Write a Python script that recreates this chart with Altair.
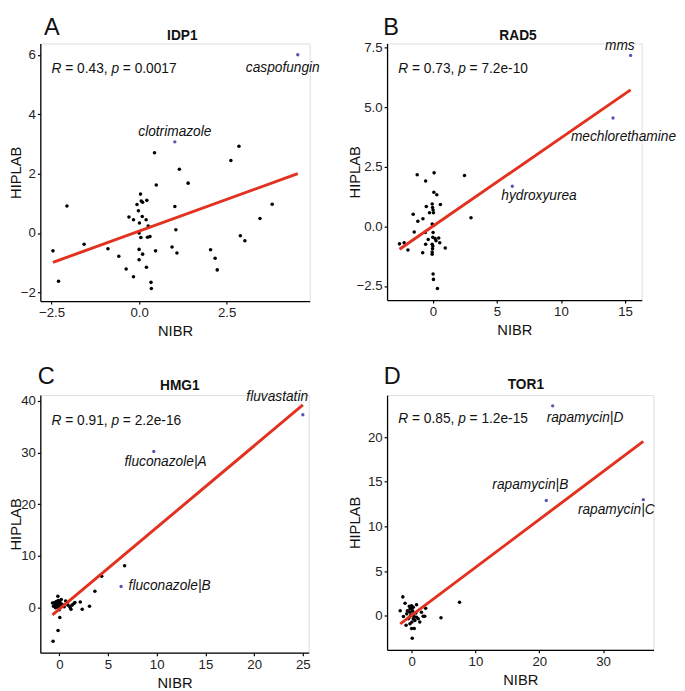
import altair as alt
import pandas as pd

FONT = "Liberation Sans"

# ---------------- Panel A : IDP1 ----------------
A_x = [-2.46, -2.30, -2.06, -1.57, -0.89, -0.58, -0.37, -0.29, -0.16, -0.16,
       -0.06, -0.02, 0.04, 0.06, 0.10, 0.01, 0.09, 0.00, 0.00, 0.00,
       0.05, 0.10, 0.20, 0.22, 0.26, 0.24, 0.31, 0.21, 0.34, 0.35,
       0.44, 0.49, 0.47, 0.94, 1.02, 1.05, 1.08, 1.15, 1.40, 2.04,
       2.17, 2.23, 2.62, 2.85, 2.89, 3.02, 3.45, 3.80]
A_y = [-0.60, -1.62, 0.91, -0.38, -0.53, -0.78, -1.21, 0.54, 0.45, -1.47,
       0.96, 0.75, 1.31, 1.08, 1.04, 0.34, 0.56, 0.00, -0.55, -0.90,
       -0.15, -0.71, 0.45, 1.10, 0.24, -0.14, -0.12, -1.15, -1.66, -1.87,
       2.70, 1.62, -0.60, -0.47, 0.89, 0.11, -0.67, 2.15, 1.68, -0.56,
       -0.85, -1.24, 2.44, 2.92, -0.09, -0.26, 0.49, 0.97]
A_hi_x = [1.02, 4.53]
A_hi_y = [3.07, 6.00]
A_hi_label = ["clotrimazole", "caspofungin"]

# ---------------- Panel B : RAD5 ----------------
B_x = [-1.22, 0.10, -0.56, 2.47, 0.08, 0.31, -0.51, -0.05, 0.59, -0.02,
       0.02, -0.26, 0.05, -1.53, -0.77, -1.17, 2.98, -0.05, 0.05, -1.45,
       -0.59, 0.02, 0.00, 0.18, 0.46, -0.36, 0.25, 0.54, -0.56, -0.05,
       0.00, -2.60, -2.24, -1.94, -0.02, 0.97, -0.79, -0.05, -0.05, 0.02,
       0.05, 0.36]
B_y = [2.17, 2.25, 1.91, 2.14, 1.44, 1.33, 0.84, 0.94, 0.92, 0.80,
       0.69, 0.58, 0.58, 0.51, 0.32, 0.22, 0.37, 0.10, 0.04, -0.23,
       -0.25, -0.25, -0.45, -0.51, -0.48, -0.55, -0.60, -0.68, -0.75, -0.75,
       -0.82, -0.73, -0.68, -0.99, -0.93, -0.90, -1.10, -1.07, -1.17, -1.99,
       -2.22, -2.60]
B_hi_x = [6.20, 14.06, 15.43]
B_hi_y = [1.69, 4.55, 7.18]
B_hi_label = ["hydroxyurea", "mechlorethamine", "mms"]

# ---------------- Panel C : HMG1 ----------------
C_x = [-0.70, -0.60, -0.50, -0.45, -0.40, -0.35, -0.30, -0.25, -0.20, -0.15,
       -0.10, -0.10, -0.05, 0.00, 0.00, 0.05, 0.05, 0.10, 0.15, 0.20,
       -0.13, -0.64, 0.30, 0.50, 0.65, 0.90, 1.10, 1.20, 1.30, 1.50,
       1.60, 2.15, 2.35, 3.10, 3.65, 4.35, 6.70]
C_y = [0.9, 0.3, 1.0, 0.5, 0.0, 0.8, 1.2, 0.4, 0.7, 2.2,
       1.4, 0.1, 0.9, 0.5, -0.4, 1.1, -1.9, 0.3, 0.8, 1.6,
       -4.4, -6.5, 0.6, 0.2, 1.3, 0.5, 0.1, -0.3, 0.5, 0.8,
       1.0, 1.1, -0.3, 0.3, 3.2, 6.1, 8.1]
C_hi_x = [9.70, 6.34, 25.00]
C_hi_y = [30.2, 4.1, 37.3]
C_hi_label = ["fluconazole|A", "fluconazole|B", "fluvastatin"]

# ---------------- Panel D : TOR1 ----------------
D_x = [-1.38, -1.79, -1.03, -0.36, 0.00, 0.77, 0.00, 2.20, -1.28, -0.77,
       -0.26, 0.26, 1.54, 1.80, 2.05, -0.51, 0.26, 0.77, 1.28, -0.87,
       -0.26, 0.00, 0.41, 0.10, 4.60, 7.50, -0.26, -0.15, 0.15, 0.36,
       0.51, -0.36, 0.05, 0.67, 1.03, -0.67, 0.26]
D_y = [2.12, 0.58, 1.42, 1.06, 1.13, 1.24, 0.84, 0.84, -0.07, 0.22,
       0.40, 0.22, 0.40, -0.04, -0.04, -0.33, -0.33, -0.15, -0.69, -1.06,
       -0.88, -1.42, -1.42, -2.52, -0.22, 1.53, 0.77, 0.04, 0.58, -0.04,
       -0.51, -0.15, -0.69, 0.33, -0.33, 0.58, 0.95]
D_hi_x = [22.1, 21.1, 36.3]
D_hi_y = [23.5, 12.9, 13.0]
D_hi_label = ["rapamycin|D", "rapamycin|B", "rapamycin|C"]

# statistics text
R_values = ["0.43", "0.73", "0.91", "0.85"]
P_values = ["0.0017", "7.2e-10", "2.2e-16", "1.2e-15"]
GENES = ["IDP1", "RAD5", "HMG1", "TOR1"]
LETTERS = ["A", "B", "C", "D"]

# Arial / Liberation Sans advance widths (em)
_W = {"0": .556, "1": .556, "2": .556, "3": .556, "4": .556, "5": .556,
      "6": .556, "7": .556, "8": .556, "9": .556, " ": .278, "=": .584,
      ".": .278, ",": .278, "-": .333, "e": .556, "R": .722, "p": .556}


def tw(s, size):
    return sum(_W.get(c, .556) for c in s) * size


TXT = "#111111"
BLUE = "#5656b0"
RED = "#e2321f"
LETTER_SIZE = 24


def panel(i, xs, ys, hx, hy, hl, label_pos, xdom, ydom, xticks, yticks,
          xfmt, yfmt, w, h, title_dx, title_up, letter_dx, letter_up,
          r_y, yext):
    base = pd.DataFrame({"x": xs, "y": ys})
    hi = pd.DataFrame({"x": hx, "y": hy, "label": hl})
    allpts = pd.concat([base, hi[["x", "y"]]], ignore_index=True)

    xaxis = alt.Axis(values=xticks, format=xfmt, title="NIBR", grid=False,
                     domainColor="black", tickColor="black", domainWidth=1.3,
                     tickWidth=1.2, tickSize=3, labelPadding=2,
                     labelFontSize=13.5, labelFont=FONT, labelColor="#222222",
                     titleFont=FONT, titleFontSize=15, titleFontWeight="normal",
                     titleColor=TXT, titlePadding=5, labelFlush=False,
                     labelOverlap=False)
    yaxis = alt.Axis(values=yticks, format=yfmt, title="HIPLAB", grid=False,
                     domainColor="black", tickColor="black", domainWidth=1.3,
                     tickWidth=1.2, tickSize=3, labelPadding=2,
                     labelFontSize=13.5, labelFont=FONT, labelColor="#222222",
                     titleFont=FONT, titleFontSize=15, titleFontWeight="normal",
                     titleColor=TXT, titlePadding=1, minExtent=yext,
                     maxExtent=yext, labelFlush=False, labelOverlap=False)
    xsc = alt.Scale(domain=xdom, nice=False, zero=False)
    ysc = alt.Scale(domain=ydom, nice=False, zero=False)
    X = alt.X("x:Q", scale=xsc, axis=xaxis)
    Y = alt.Y("y:Q", scale=ysc, axis=yaxis)

    pts = alt.Chart(base).mark_circle(size=13, opacity=1, color="black").encode(x=X, y=Y)
    hip = alt.Chart(hi).mark_circle(size=12, opacity=1, color=BLUE).encode(x=X, y=Y)
    reg = (alt.Chart(allpts).transform_regression("x", "y")
           .mark_line(color=RED, strokeWidth=3).encode(x=X, y=Y))

    layers = [pts, reg, hip]
    for k in range(len(hl)):
        dx, dy, al = label_pos[k]
        one = hi.iloc[[k]]
        layers.append(alt.Chart(one).mark_text(
            font=FONT, fontSize=14, fontStyle="italic", color=TXT,
            align=al, baseline="alphabetic", dx=dx, dy=dy).encode(
            x=X, y=Y, text="label:N"))

    one_row = pd.DataFrame({"t": [0]})
    # statistics line:  R = r, p = p  (R and p italic)
    x0 = 11.5
    pieces = [("R", x0, "italic"),
              ("= " + R_values[i] + ",", x0 + tw("R ", 14), "normal"),
              ("p", x0 + tw("R = " + R_values[i] + ", ", 14), "italic"),
              ("= " + P_values[i], x0 + tw("R = " + R_values[i] + ", p ", 14), "normal")]
    for txt, px, st in pieces:
        layers.append(alt.Chart(one_row).mark_text(
            font=FONT, fontSize=14, fontStyle=st, color=TXT, align="left",
            baseline="alphabetic", text=txt).encode(
            x=alt.value(px), y=alt.value(r_y)))
    # gene title
    layers.append(alt.Chart(one_row).mark_text(
        font=FONT, fontSize=14, fontWeight="bold", color=TXT, align="center",
        baseline="alphabetic", text=GENES[i]).encode(
        x=alt.value(title_dx), y=alt.value(-title_up)))
    # panel letter (top baseline: tight bounds)
    layers.append(alt.Chart(one_row).mark_text(
        font=FONT, fontSize=LETTER_SIZE, color=TXT, align="left",
        baseline="top", text=LETTERS[i]).encode(
        x=alt.value(letter_dx),
        y=alt.value(-letter_up - round(0.79 * LETTER_SIZE))))

    return alt.layer(*layers).properties(width=w, height=h)


pA = panel(0, A_x, A_y, A_hi_x, A_hi_y, A_hi_label,
           [(0, -6.4, "center"), (-15.3, 17.6, "center")],
           [-2.82, 4.87], [-2.29, 6.38], [-2.5, 0, 2.5], [-2, 0, 2, 4, 6],
           ".1f", "d", 275, 263, 145, 4, 3.7, 9, 30.5, 16)
pB = panel(1, B_x, B_y, B_hi_x, B_hi_y, B_hi_label,
           [(27.3, 13.6, "center"), (-43, 23.7, "left"), (-11, -5.6, "center")],
           [-3.57, 16.3], [-3.09, 7.68], [0, 5, 10, 15], [-2.5, 0, 2.5, 5, 7.5],
           "d", ".1f", 260, 262, 133.7, 3.3, -4, 9, 30.5, 24)
pC = panel(2, C_x, C_y, C_hi_x, C_hi_y, C_hi_label,
           [(12, 15, "center"), (7.7, 4, "left"), (-26.2, -14, "center")],
           [-1.95, 25.6], [-8.7, 41.1], [0, 5, 10, 15, 20, 25], [0, 10, 20, 30, 40],
           "d", "d", 274, 263, 142.4, 5, -2.6, 11.5, 30, 16)
pD = panel(3, D_x, D_y, D_hi_x, D_hi_y, D_hi_label,
           [(33, 16.3, "center"), (-16.3, -12, "center"), (-27.6, 14.4, "center")],
           [-3.85, 37.9], [-3.8, 24.7], [0, 10, 20, 30], [0, 5, 10, 15, 20],
           "d", "d", 272, 260, 141.7, 6.7, -3.3, 11.5, 28.3, 24)

chart = (alt.concat(pA, pB, pC, pD, columns=2,
                    spacing={"row": 26, "column": 27})
         .properties(align="each",
                     padding={"left": 0, "top": 0, "right": 0, "bottom": 0})
         .configure_view(stroke=None)
         .configure(background="white"))

chart.save("out.html", embed_options={"renderer": "svg", "actions": False})
